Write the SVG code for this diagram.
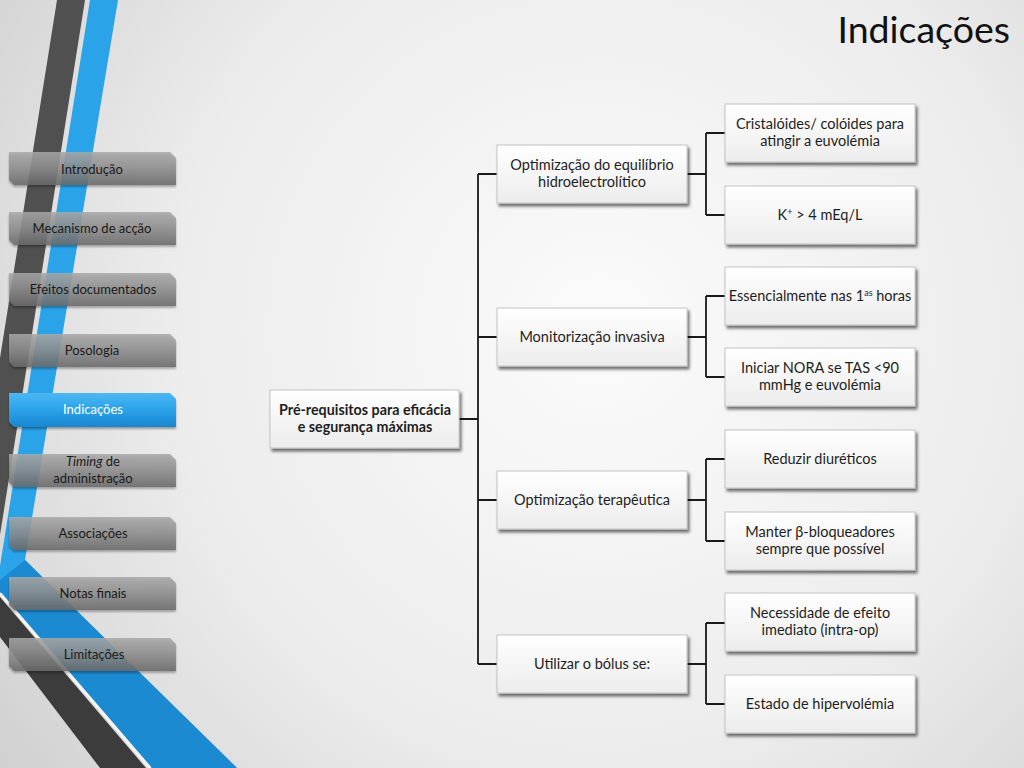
<svg xmlns="http://www.w3.org/2000/svg" width="1024" height="768" viewBox="0 0 1024 768">
<defs>
<radialGradient id="bg" cx="600" cy="330" r="780" gradientUnits="userSpaceOnUse">
<stop offset="0" stop-color="#fbfbfb"/>
<stop offset="0.55" stop-color="#ececec"/>
<stop offset="1" stop-color="#cdcdcd"/>
</radialGradient>
<linearGradient id="btnGray" x1="0" y1="0" x2="0" y2="1">
<stop offset="0" stop-color="#a9a9a9"/>
<stop offset="0.45" stop-color="#909090"/>
<stop offset="1" stop-color="#6a6a6a"/>
</linearGradient>
<linearGradient id="btnBlue" x1="0" y1="0" x2="0" y2="1">
<stop offset="0" stop-color="#4cb8f2"/>
<stop offset="0.5" stop-color="#2aa2ea"/>
<stop offset="1" stop-color="#1a86cf"/>
</linearGradient>
<linearGradient id="boxFill" x1="0" y1="0" x2="0" y2="1">
<stop offset="0" stop-color="#ffffff"/>
<stop offset="1" stop-color="#ececec"/>
</linearGradient>
<filter id="shadow" x="-10%" y="-20%" width="125%" height="150%">
<feDropShadow dx="2" dy="3" stdDeviation="1.8" flood-color="#000" flood-opacity="0.55"/>
</filter>
<filter id="btnShadow" x="-10%" y="-20%" width="125%" height="160%">
<feDropShadow dx="0" dy="2" stdDeviation="1.2" flood-color="#000" flood-opacity="0.35"/>
</filter>
</defs>
<style>
.btn{fill:url(#btnGray);fill-opacity:0.85;filter:url(#btnShadow)}
.btnOn{fill:url(#btnBlue);filter:url(#btnShadow)}
.mt{font-family:Lato,"Open Sans","Liberation Sans",sans-serif;font-size:13px;fill:#1a1a1a;text-anchor:middle}
.mtOn{fill:#ffffff}
.box{fill:url(#boxFill);stroke:#c4c4c4;stroke-width:1;filter:url(#shadow)}
.bt{font-family:Lato,"Open Sans","Liberation Sans",sans-serif;font-size:14.5px;fill:#1e1e1e;text-anchor:middle}
.root{font-weight:bold;font-size:14.3px}
.conn{fill:none;stroke:#1a1a1a;stroke-width:1.8}
</style>
<rect width="1024" height="768" fill="url(#bg)"/>
<g id="stripes">
<polygon points="57,0 85,0 0,535 0,358" fill="#505050"/>
<polygon points="90,0 118,0 25,560 237,768 152,768 0,592 0,566" fill="#2aa3e9"/>
<polygon points="25,560 237,768 152,768 0,592 0,580" fill="#1b8ad0"/>
<polygon points="0,597 146,768 100,768 0,637" fill="#3c3c3c"/>
<line x1="0" y1="593.5" x2="150" y2="768" stroke="#f4f4f4" stroke-width="3"/>
</g>
<g id="menu">
<g id="m-introducao"><path class="btn" d="M9,152 H170 L176,158 V185 H14 L9,180 Z"/><text class="mt" x="92" y="173.5">Introdução</text></g>
<g id="m-mecanismo"><path class="btn" d="M9,212 H170 L176,218 V245 H14 L9,240 Z"/><text class="mt" x="92" y="233">Mecanismo de acção</text></g>
<g id="m-efeitos"><path class="btn" d="M9,273 H170 L176,279 V306 H14 L9,301 Z"/><text class="mt" x="93" y="294">Efeitos documentados</text></g>
<g id="m-posologia"><path class="btn" d="M9,334 H170 L176,340 V367 H14 L9,362 Z"/><text class="mt" x="92" y="354.5">Posologia</text></g>
<g id="m-indicacoes"><path class="btnOn" d="M9,393 H170 L176,399 V427 H14 L9,422 Z"/><text class="mt mtOn" x="93" y="414">Indicações</text></g>
<g id="m-timing"><path class="btn" d="M9,454 H170 L176,460 V487 H14 L9,482 Z"/><text class="mt" x="93" y="466"><tspan font-style="italic">Timing</tspan> de</text><text class="mt" x="93" y="483">administração</text></g>
<g id="m-associacoes"><path class="btn" d="M9,517 H170 L176,523 V550 H14 L9,545 Z"/><text class="mt" x="93" y="538">Associações</text></g>
<g id="m-notas"><path class="btn" d="M9,577 H170 L176,583 V610 H14 L9,605 Z"/><text class="mt" x="93" y="598">Notas finais</text></g>
<g id="m-limitacoes"><path class="btn" d="M9,638 H170 L176,644 V671 H14 L9,666 Z"/><text class="mt" x="94" y="659">Limitações</text></g>
</g>
<text id="title" x="1010" y="43" text-anchor="end" font-family="Lato,'Open Sans','Liberation Sans',sans-serif" font-size="37.5" fill="#111">Indicações</text>
<g id="connectors">
<path class="conn" d="M459,419 H478 M478,174 V664 M478,174 H497 M478,337 H497 M478,500 H497 M478,664 H497"/>
<path class="conn" d="M687,174 H706 M706,133 V215 M706,133 H725 M706,215 H725"/>
<path class="conn" d="M687,337 H706 M706,296 V377 M706,296 H725 M706,377 H725"/>
<path class="conn" d="M687,500 H706 M706,459 V541 M706,459 H725 M706,541 H725"/>
<path class="conn" d="M687,664 H706 M706,623 V704 M706,623 H725 M706,704 H725"/>
</g>
<g id="n-root"><rect class="box" x="270" y="390" width="189" height="58"/><text class="bt root" x="365" y="415">Pré-requisitos para eficácia</text><text class="bt root" x="365" y="432">e segurança máximas</text></g>
<g id="n-hidro"><rect class="box" x="497" y="145" width="190" height="58"/><text class="bt" x="592" y="170">Optimização do equilíbrio</text><text class="bt" x="592" y="187">hidroelectrolítico</text></g>
<g id="n-monit"><rect class="box" x="497" y="308" width="190" height="58"/><text class="bt" x="592" y="342">Monitorização invasiva</text></g>
<g id="n-terap"><rect class="box" x="497" y="471" width="190" height="58"/><text class="bt" x="592" y="505">Optimização terapêutica</text></g>
<g id="n-bolus"><rect class="box" x="497" y="635" width="190" height="58"/><text class="bt" x="592" y="669">Utilizar o bólus se:</text></g>
<g id="n-crist"><rect class="box" x="725" y="104" width="190" height="58"/><text class="bt" x="820" y="129">Cristalóides/ colóides para</text><text class="bt" x="820" y="146">atingir a euvolémia</text></g>
<g id="n-k"><rect class="box" x="725" y="186" width="190" height="58"/><text class="bt" x="820" y="220">K<tspan font-size="9" dy="-5">+</tspan><tspan dy="5"> &gt; 4 mEq/L</tspan></text></g>
<g id="n-essen"><rect class="box" x="725" y="267" width="190" height="58"/><text class="bt" x="820" y="301">Essencialmente nas 1<tspan font-size="9" dy="-5">as</tspan><tspan dy="5"> horas</tspan></text></g>
<g id="n-nora"><rect class="box" x="725" y="348" width="190" height="58"/><text class="bt" x="820" y="373">Iniciar NORA se TAS &lt;90</text><text class="bt" x="820" y="390">mmHg e euvolémia</text></g>
<g id="n-reduz"><rect class="box" x="725" y="430" width="190" height="58"/><text class="bt" x="820" y="464">Reduzir diuréticos</text></g>
<g id="n-beta"><rect class="box" x="725" y="512" width="190" height="58"/><text class="bt" x="820" y="537">Manter β-bloqueadores</text><text class="bt" x="820" y="554">sempre que possível</text></g>
<g id="n-neces"><rect class="box" x="725" y="593" width="190" height="58"/><text class="bt" x="820" y="618">Necessidade de efeito</text><text class="bt" x="820" y="635">imediato (intra-op)</text></g>
<g id="n-hiper"><rect class="box" x="725" y="675" width="190" height="58"/><text class="bt" x="820" y="709">Estado de hipervolémia</text></g>
</svg>
